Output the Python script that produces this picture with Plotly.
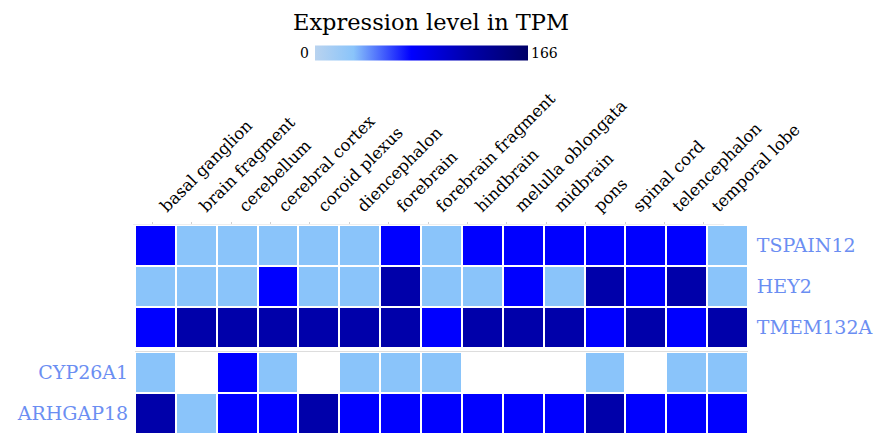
import plotly.graph_objects as go

# ---- data ----
tissues = ["basal ganglion", "brain fragment", "cerebellum", "cerebral cortex",
           "coroid plexus", "diencephalon", "forebrain", "forebrain fragment",
           "hindbrain", "melulla oblongata", "midbrain", "pons", "spinal cord",
           "telencephalon", "temporal lobe"]
top_genes = ["TSPAIN12", "HEY2", "TMEM132A"]
bottom_genes = ["CYP26A1", "ARHGAP18"]

tspain12 = [75, 30, 30, 30, 30, 30, 75, 30, 75, 75, 75, 75, 75, 75, 30]
hey2 = [30, 30, 30, 75, 30, 30, 120, 30, 30, 75, 30, 120, 75, 120, 30]
tmem132a = [75, 120, 120, 120, 120, 120, 120, 75, 120, 120, 120, 75, 120, 75, 120]
cyp26a1 = [30, None, 75, 30, None, 30, 30, 30, None, None, None, 30, None, 30, 30]
arhgap18 = [120, 30, 75, 75, 120, 75, 75, 75, 75, 75, 75, 120, 75, 75, 75]

tpm_min, tpm_max = 0, 166
cbar_title = "Expression level in TPM"

# ---- style ----
W, H = 877, 434
FONT = "DejaVu Serif"
LABEL_BLUE = "#6b8ef2"
colorscale = [[0.0, "#b9d3ef"], [0.1807, "#8ac4fa"], [0.4518, "#0000ff"],
              [0.7229, "#0000aa"], [1.0, "#000066"]]

xdom = [135 / W, 748 / W]
label_dom = [132.5 / W, 723.5 / W]
top_dom = [1 - 348 / H, 1 - 225 / H]
bot_dom = [0, 1 - 352 / H]

fig = go.Figure()
fig.add_trace(go.Heatmap(
    z=[tspain12, hey2, tmem132a], x=tissues, y=top_genes,
    xaxis="x", yaxis="y", zmin=tpm_min, zmax=tpm_max,
    colorscale=colorscale, xgap=2, ygap=2, hoverongaps=False,
    colorbar=dict(orientation="h", lenmode="pixels", len=213, thickness=15,
                  x=315 / W, xanchor="left", y=1 - 52.5 / H, yanchor="middle",
                  xpad=0, ypad=0, outlinewidth=0, showticklabels=False,
                  ticks=""),
))
fig.add_trace(go.Heatmap(
    z=[cyp26a1, arhgap18], x=tissues, y=bottom_genes,
    xaxis="x2", yaxis="y2", zmin=tpm_min, zmax=tpm_max,
    colorscale=colorscale, xgap=2, ygap=2, showscale=False, hoverongaps=False,
))
# empty trace that carries the column-label axis
fig.add_trace(go.Scatter(x=[], y=[], xaxis="x3", yaxis="y",
                         showlegend=False, hoverinfo="skip"))

fig.update_layout(
    width=W, height=H,
    margin=dict(l=0, r=0, t=0, b=0, autoexpand=False),
    paper_bgcolor="white", plot_bgcolor="rgba(0,0,0,0)",
    font=dict(family=FONT, color="black"),
    showlegend=False,
    xaxis=dict(domain=xdom, anchor="y", side="top", showticklabels=False,
               ticks="", showgrid=False, zeroline=False, showline=False,
               automargin=False),
    xaxis3=dict(domain=label_dom, anchor="y", side="top", type="linear",
                range=[-0.5, len(tissues) - 0.5],
                tickmode="array", tickvals=list(range(len(tissues))),
                ticktext=tissues, tickangle=-45, ticklabelshift=9,
                tickfont=dict(size=16.5, color="black"), ticks="outside",
                ticklen=2, tickcolor="#d0d0d0", showgrid=False,
                zeroline=False, showline=True, linecolor="#eeeeee",
                linewidth=1, automargin=False),
    yaxis=dict(domain=top_dom, anchor="x", side="right",
               autorange="reversed", tickfont=dict(size=19, color=LABEL_BLUE),
               showgrid=False, zeroline=False, ticks="outside", ticklen=4,
               tickcolor="rgba(0,0,0,0)", automargin=False),
    xaxis2=dict(domain=xdom, anchor="y2", showticklabels=False,
                showgrid=False, zeroline=False, showline=True,
                mirror=True, linecolor="#dddddd", linewidth=1, ticks="",
                automargin=False),
    yaxis2=dict(domain=bot_dom, anchor="x2", side="left",
                autorange="reversed", tickfont=dict(size=19, color=LABEL_BLUE),
                showgrid=False, zeroline=False, ticks="outside", ticklen=2,
                tickcolor="rgba(0,0,0,0)", automargin=False),
    annotations=[
        dict(text=cbar_title, xref="paper", yref="paper", x=431 / W,
             y=1 - 22 / H, xanchor="center", yanchor="middle",
             showarrow=False, font=dict(size=22.5, color="black")),
        dict(text=str(tpm_min), xref="paper", yref="paper", x=311 / W,
             y=1 - 52.5 / H, xanchor="right", yanchor="middle",
             showarrow=False, font=dict(size=14, color="black")),
        dict(text=str(tpm_max), xref="paper", yref="paper", x=529 / W,
             y=1 - 52.5 / H, xanchor="left", yanchor="middle",
             showarrow=False, font=dict(size=14, color="black")),
    ],
)

fig.write_html("out.html")
